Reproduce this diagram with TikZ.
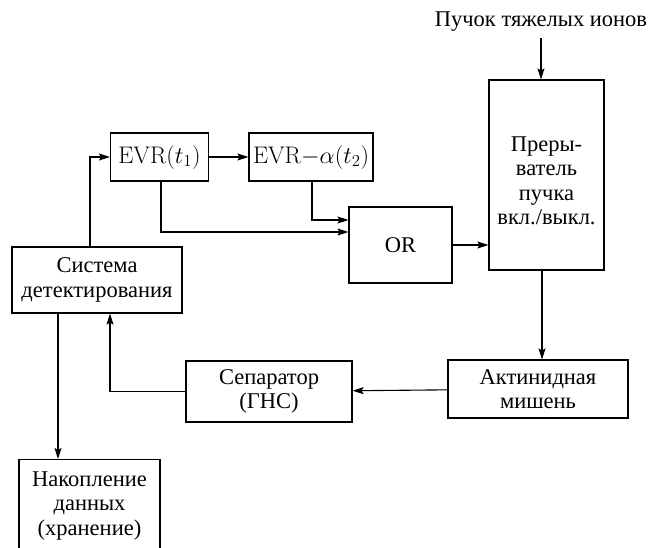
\RequirePackage{fix-cm}
\documentclass[tikz,border=0pt]{standalone}
\usepackage{fontspec}
\newfontfamily\ru{Liberation Serif}
\usetikzlibrary{arrows.meta}
\begin{document}
\begin{tikzpicture}[x=1pt,y=-1pt,
  box/.style={draw,line width=1.1pt,inner sep=0pt,align=center,
    font=\ru\fontsize{22.5}{24.5}\selectfont},
  mbox/.style={box,font=\fontsize{24}{26}\selectfont},
  conn/.style={line width=1.1pt,-{Stealth[length=11pt,width=7pt,inset=2pt]}}]
\useasboundingbox (0,0) rectangle (650,547);
\clip (0,0) rectangle (650,547);
\node[mbox,minimum width=98pt,minimum height=48pt] (evr1) at (159.5,157) {EVR$(t_1)$};
\node[mbox,minimum width=124pt,minimum height=48pt] (evr2) at (311,157) {EVR$-\alpha(t_2)$};
\node[box,minimum width=103pt,minimum height=76pt] (or) at (400.5,245) {OR};
\node[box,minimum width=115pt,minimum height=190pt] (intr) at (546.5,175) {};
\node[align=center,inner sep=0pt,font=\ru\fontsize{22.5}{24.5}\selectfont] (intrtext) at (546.5,181) {Преры-\\ватель\\пучка\\вкл./выкл.};
\node[font=\ru\fontsize{22.5}{24.5}\selectfont,inner sep=0pt] (beam) at (541,22) {Пучок тяжелых ионов};
\coordinate (beamtop) at (541,38);
\node[box,minimum width=170pt,minimum height=66pt] (sys) at (97,280) {Система\\детектирования};
\node[box,minimum width=166pt,minimum height=61pt] (sep) at (269,391.5) {Сепаратор\\(ГНС)};
\node[box,minimum width=180pt,minimum height=58pt] (act) at (538,389) {Актинидная\\мишень};
\node[box,minimum width=141pt,minimum height=92pt,anchor=north] (nak) at (89.5,459) {Накопление\\данных\\(хранение)};
% connectors
\draw[conn] (sys.north -| 90,0) |- (evr1.west);
\draw[conn] (beamtop) -- (beamtop |- intr.north);
\draw[conn] (evr1) -- (evr2);
\draw[conn] (evr1.south -| 161,0) |- (or.west |- 0,232);
\draw[conn] (evr2.south -| 312,0) |- (or.west |- 0,220);
\draw[conn] (or) -- (or -| intr.west);
\draw[conn] (intr.south -| 542,0) -- (act.north -| 542,0);
\draw[conn] (act) -- (sep);
\draw[conn] (sep.west) -| (sys.south -| 110,0);
\draw[conn] (sys.south -| 58,0) -- (nak.north -| 58,0);
\end{tikzpicture}
\end{document}
